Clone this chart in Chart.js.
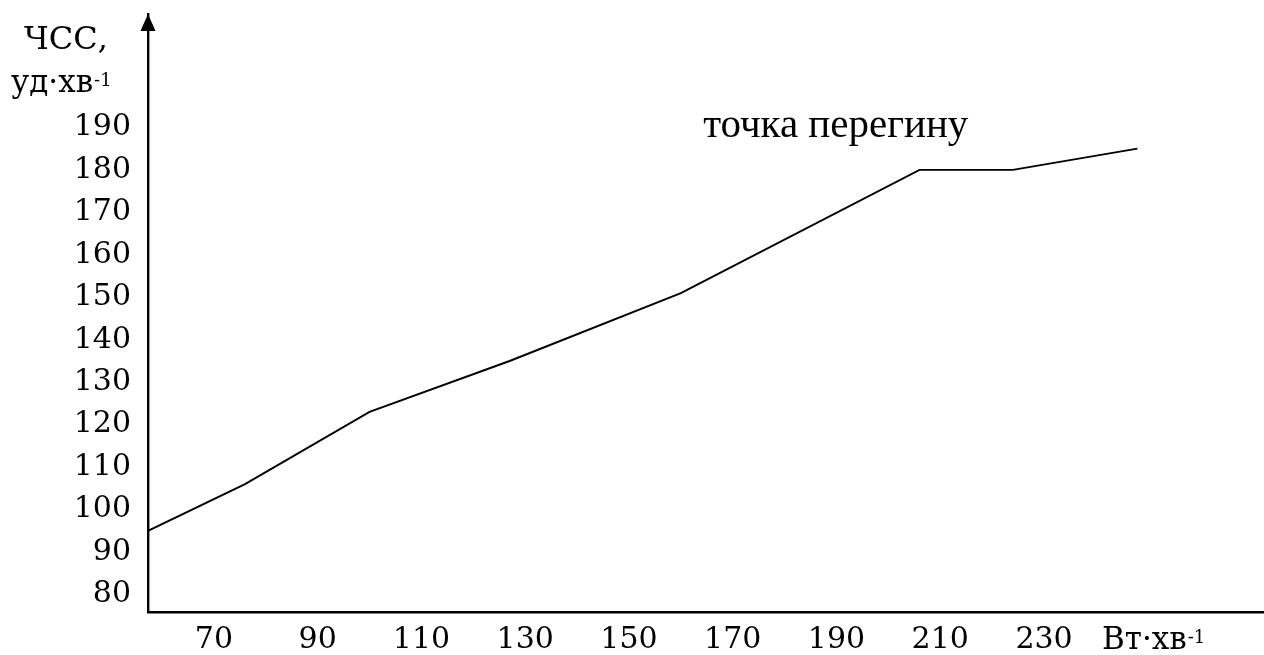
<!DOCTYPE html>
<html><head><meta charset="utf-8">
<script src="https://cdn.jsdelivr.net/npm/chart.js@4/dist/chart.umd.min.js"></script>
<style>html,body{margin:0;padding:0;background:#fff;} #wrap{width:1264px;height:655px;position:relative;}</style>
</head><body><div id="wrap"><canvas id="c"></canvas></div>
<script>
// ---- data ----
const loadValues = [57.3, 76, 100, 127, 160, 206, 224, 248];      // Вт·хв-1
const heartRate  = [95, 106, 123, 135, 151, 180, 180, 185];       // уд·хв-1
const xTickValues = [70, 90, 110, 130, 150, 170, 190, 210, 230];
const yTickValues = [80, 90, 100, 110, 120, 130, 140, 150, 160, 170, 180, 190];
const yTitleLine1 = 'ЧСС,';
const yTitleLine2 = 'уд·хв';
const xUnitText = 'Вт·хв';
const superscript = '-1';
const annotationText = 'точка перегину';
const annotationAnchor = [164.3, 187.8];

const SERIF = '"DejaVu Serif", serif';

const decor = {
  id: 'decor',
  afterDraw(chart) {
    const ctx = chart.ctx;
    const a = chart.chartArea;
    const xs = chart.scales.x, ys = chart.scales.y;
    ctx.save();
    ctx.fillStyle = '#000';
    // arrow head on the y axis
    const ax = a.left;
    ctx.beginPath();
    ctx.moveTo(ax, a.top);
    ctx.lineTo(ax - 7.5, a.top + 17);
    ctx.lineTo(ax + 7.5, a.top + 17);
    ctx.closePath();
    ctx.fill();
    // y title
    ctx.textBaseline = 'alphabetic';
    ctx.textAlign = 'left';
    ctx.font = '32px ' + SERIF;
    ctx.fillText(yTitleLine1, 24, 49);
    ctx.font = '31px ' + SERIF;
    ctx.fillText(yTitleLine2, 11, 92);
    let w = ctx.measureText(yTitleLine2).width;
    ctx.font = '18px ' + SERIF;
    ctx.fillText(superscript, 11 + w + 1, 86);
    // x unit
    ctx.font = '31px ' + SERIF;
    ctx.fillText(xUnitText, 1102, 649);
    w = ctx.measureText(xUnitText).width;
    ctx.font = '18px ' + SERIF;
    ctx.fillText(superscript, 1102 + w + 1, 643);
    // annotation
    ctx.font = '41px "Liberation Serif", serif';
    ctx.fillText(annotationText, xs.getPixelForValue(annotationAnchor[0]), ys.getPixelForValue(annotationAnchor[1]));
    ctx.restore();
  }
};

const zeroPad = s => { s.paddingTop = 0; s.paddingBottom = 0; s.paddingLeft = 0; s.paddingRight = 0; };

new Chart(document.getElementById('c'), {
  type: 'line',
  data: {
    datasets: [{
      data: loadValues.map((x, i) => ({ x: x, y: heartRate[i] })),
      borderColor: '#000',
      borderWidth: 1.9,
      pointRadius: 0,
      tension: 0,
      fill: false
    }]
  },
  options: {
    responsive: true,
    maintainAspectRatio: false,
    animation: false,
    layout: { padding: { top: 14, left: 0, right: 0, bottom: 0 } },
    plugins: { legend: { display: false }, tooltip: { enabled: false } },
    scales: {
      x: {
        type: 'linear', min: 57.3, max: 272.4,
        grid: { display: false, drawTicks: false },
        border: { display: true, color: '#000', width: 2.4 },
        afterBuildTicks: s => { s.ticks = xTickValues.map(v => ({ value: v })); },
        afterFit: s => { s.height = 43; zeroPad(s); },
        ticks: { color: '#000', font: { family: SERIF, size: 30 }, padding: 10, maxRotation: 0, autoSkip: false, callback: v => String(v) }
      },
      y: {
        type: 'linear', min: 75.9, max: 216.7,
        grid: { display: false, drawTicks: false },
        border: { display: true, color: '#000', width: 2.4 },
        afterBuildTicks: s => { s.ticks = yTickValues.map(v => ({ value: v })); },
        afterFit: s => { s.width = 148; zeroPad(s); },
        ticks: { color: '#000', font: { family: SERIF, size: 30 }, padding: 17, autoSkip: false, callback: v => String(v) }
      }
    }
  },
  plugins: [decor]
});
</script></body></html>
